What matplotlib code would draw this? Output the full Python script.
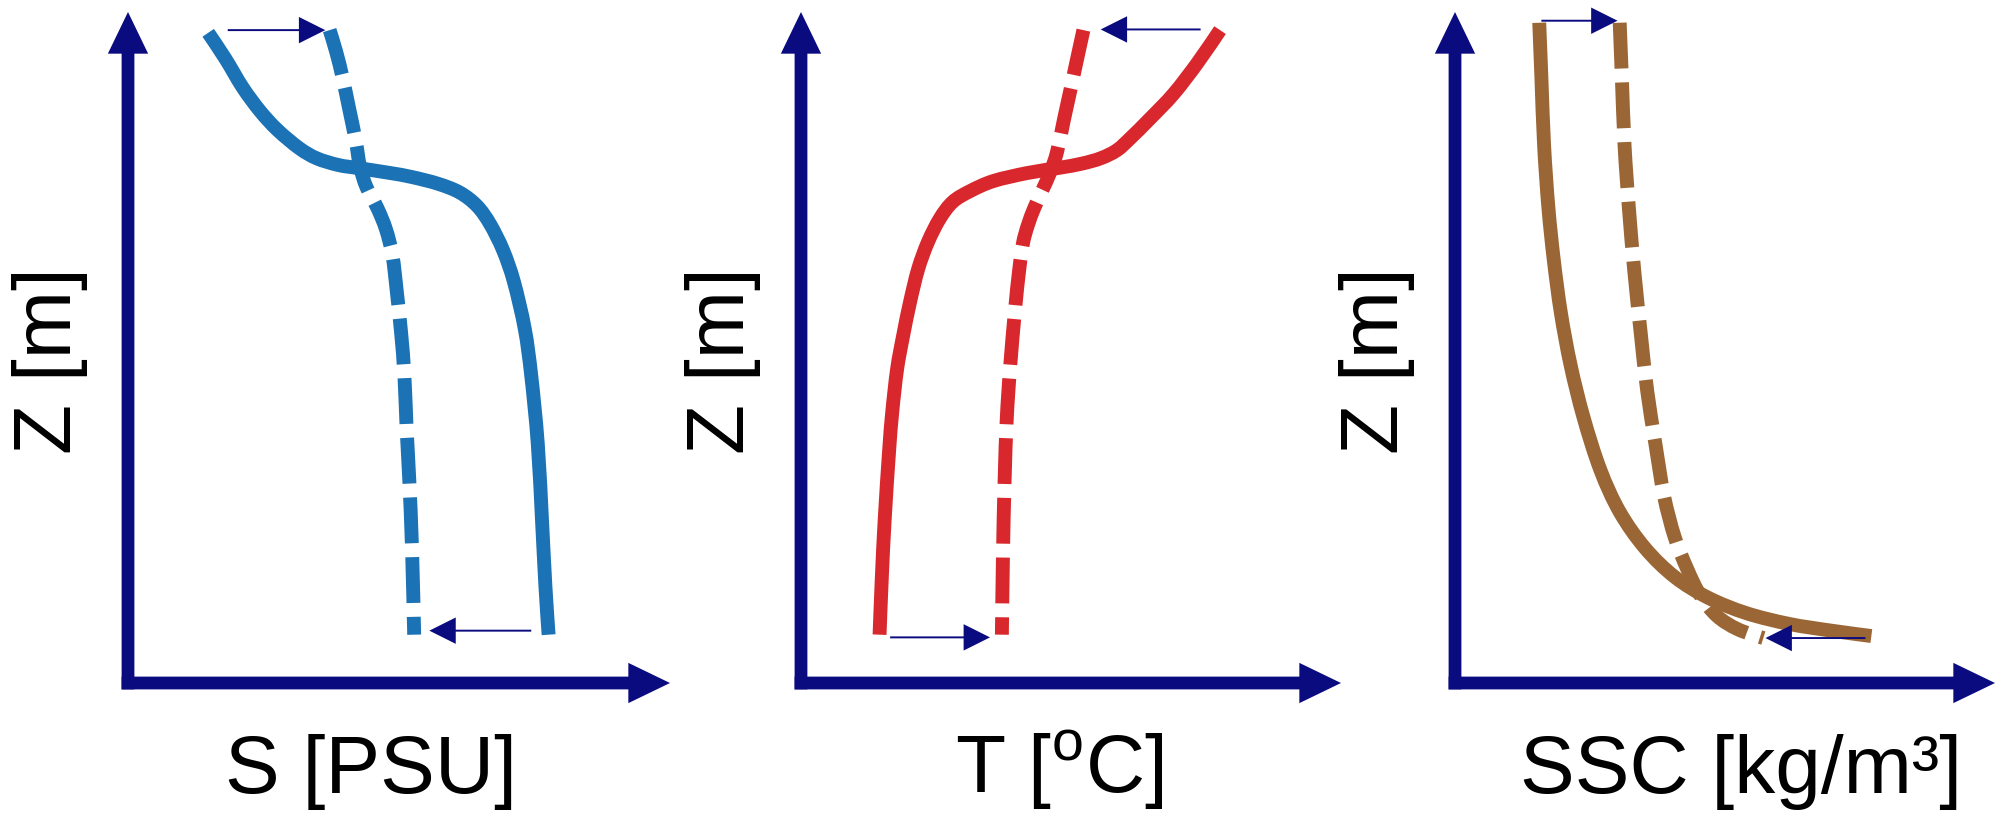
import numpy as np
import matplotlib
matplotlib.use("Agg")
import matplotlib.pyplot as plt
from matplotlib.patches import FancyArrowPatch, PathPatch
from matplotlib.path import Path

# Profiles read off the schematic, in percent of axis length
# (x: property, z: height above bottom)

# salinity
s_before_x = [14.8, 18.0, 21.2, 24.4, 27.6, 31.6, 34.8, 38.8, 42.8, 48.4, 52.4, 57.2,
              61.2, 64.4, 66.8, 69.2, 71.2, 73.2, 74.4, 75.6, 76.4, 77.0, 77.6]
s_before_z = [96.9, 93.0, 88.7, 85.2, 82.4, 79.7, 78.2, 77.2, 76.7, 76.0, 75.4, 74.4,
              73.1, 71.1, 68.4, 64.5, 59.8, 52.8, 45.8, 35.7, 24.0, 14.6, 7.2]
s_after_x = [37.2, 38.4, 39.6, 40.8, 42.0, 42.8, 44.0, 46.0, 47.6, 48.8, 49.6, 50.4,
             51.0, 51.4, 51.9, 52.4, 52.8]
s_after_z = [97.3, 94.1, 90.2, 85.6, 80.9, 77.0, 73.9, 70.8, 67.6, 63.7, 58.3, 52.1,
             45.8, 38.0, 30.2, 20.1, 7.2]
s_arrows = [((18.4, 97.3), (36.4, 97.3)), ((74.4, 7.8), (55.6, 7.8))]

# temperature
t_before_x = [77.6, 73.5, 69.0, 64.5, 61.0, 58.5, 55.5, 52.0, 48.0, 41.9, 35.6, 31.3,
              28.1, 25.7, 23.5, 21.7, 20.2, 18.9, 17.8, 16.9, 16.3, 15.5, 14.95, 14.55]
t_before_z = [97.3, 92.5, 87.8, 84.0, 81.2, 79.4, 78.2, 77.4, 76.8, 76.0, 74.8, 73.3,
              71.7, 69.2, 65.7, 61.7, 56.8, 51.7, 46.8, 40.4, 34.4, 24.4, 15.4, 7.2]
t_after_x = [52.3, 51.1, 49.9, 48.7, 47.4, 46.1, 44.6, 43.2, 42.0, 41.1, 40.4, 39.6,
             38.7, 38.1, 37.7, 37.4, 37.2]
t_after_z = [97.3, 92.9, 88.4, 84.0, 79.1, 76.0, 73.3, 70.8, 68.2, 65.5, 61.5, 55.3,
             46.8, 39.3, 30.0, 19.0, 7.2]
t_arrows = [((74.0, 97.4), (55.5, 97.4)), ((16.5, 6.8), (35.0, 6.8))]

# suspended sediment concentration
c_before_x = [15.6, 16.0, 16.5, 17.3, 18.3, 19.6, 21.4, 23.8, 26.9, 30.5, 35.2, 40.7,
              46.9, 54.0, 61.9, 69.7, 77.1]
c_before_z = [98.4, 90.2, 80.1, 70.8, 63.0, 55.2, 47.4, 39.6, 31.8, 25.5, 20.1, 15.8,
              12.7, 10.4, 8.8, 7.8, 7.0]
c_after_x = [30.5, 30.9, 31.4, 32.2, 33.2, 34.4, 35.6, 37.1, 38.7, 40.7, 43.0, 45.4,
             48.5, 52.4, 57.1]
c_after_z = [98.4, 90.2, 80.1, 70.8, 61.4, 52.1, 43.5, 35.7, 27.9, 21.7, 17.0, 13.1,
             10.0, 8.0, 6.7]
c_arrows = [((16.0, 98.7), (30.1, 98.7)), ((76.0, 6.7), (57.5, 6.7))]

x_labels = ["S [PSU]", r"T [$^\mathrm{o}$C]", "SSC [kg/m³]"]
x_label_pos = [0.448, 0.479, 0.530]
colors = ["#1b72b5", "#d8282d", "#9b6635"]
NAVY = "#0b0b80"

panel_left = [128, 801, 1455]   # px, position of vertical axis
panel_width = [542, 540, 540]

LW = 10


def smooth_path(xs, zs):
    """Bezier path running through the read points (Catmull-Rom tangents)."""
    p = np.column_stack([xs, zs]).astype(float)
    verts = [p[0]]
    codes = [Path.MOVETO]
    n = len(p)
    for i in range(n - 1):
        p0 = p[max(i - 1, 0)]
        p1, p2 = p[i], p[i + 1]
        p3 = p[min(i + 2, n - 1)]
        verts += [p1 + (p2 - p0) / 6, p2 - (p3 - p1) / 6, p2]
        codes += [Path.CURVE4] * 3
    return Path(verts, codes)


def axis_arrows(ax, width_px):
    style = "simple,head_length=30,head_width=29,tail_width=9.2"
    half = 9.2 / 72 * 100 / 2
    for a, b in [((0, -half / 671), (0, 1)), ((-half / width_px, 0), (1, 0))]:
        ax.add_patch(FancyArrowPatch(a, b, transform=ax.transAxes, arrowstyle=style,
                                     mutation_scale=1, lw=0, color=NAVY,
                                     shrinkA=0, shrinkB=0, clip_on=False, zorder=5))


def shift_arrows(ax, arrows):
    style = "simple,head_length=19,head_width=19,tail_width=1.4"
    for a, b in arrows:
        ax.add_patch(FancyArrowPatch(a, b, arrowstyle=style, mutation_scale=1, lw=0,
                                     color=NAVY, shrinkA=0, shrinkB=0,
                                     clip_on=False, zorder=6))


def draw_panel(fig, i, before, after, arrows):
    W, H = 2004, 820
    ax = fig.add_axes([panel_left[i] / W, (H - 684) / H, panel_width[i] / W, 671 / H])
    ax.set_xlim(0, 100)
    ax.set_ylim(0, 100)
    ax.axis("off")

    ax.add_patch(PathPatch(smooth_path(*after), fill=False, edgecolor=colors[i], lw=LW,
                           linestyle=(0, (3.3, 1.0)), capstyle="butt", joinstyle="round",
                           clip_on=False, zorder=3))
    ax.add_patch(PathPatch(smooth_path(*before), fill=False, edgecolor=colors[i], lw=LW,
                           capstyle="butt", joinstyle="round", clip_on=False, zorder=4))

    axis_arrows(ax, panel_width[i])
    shift_arrows(ax, arrows)

    font = dict(family=["Liberation Sans", "DejaVu Sans"], size=59, color="black")
    ax.text(-0.105, 0.482, "Z [m]", transform=ax.transAxes, rotation=90,
            rotation_mode="anchor", ha="center", va="baseline", **font)
    ax.text(x_label_pos[i], -0.162, x_labels[i], transform=ax.transAxes,
            ha="center", va="baseline", **font)


def main():
    plt.rcParams["mathtext.fontset"] = "custom"
    plt.rcParams["mathtext.rm"] = "Liberation Sans"
    fig = plt.figure(figsize=(20.04, 8.2), dpi=100)
    fig.patch.set_facecolor("white")

    draw_panel(fig, 0, (s_before_x, s_before_z), (s_after_x, s_after_z), s_arrows)
    draw_panel(fig, 1, (t_before_x, t_before_z), (t_after_x, t_after_z), t_arrows)
    draw_panel(fig, 2, (c_before_x, c_before_z), (c_after_x, c_after_z), c_arrows)

    fig.savefig("out.png", dpi=100)


if __name__ == "__main__":
    main()
